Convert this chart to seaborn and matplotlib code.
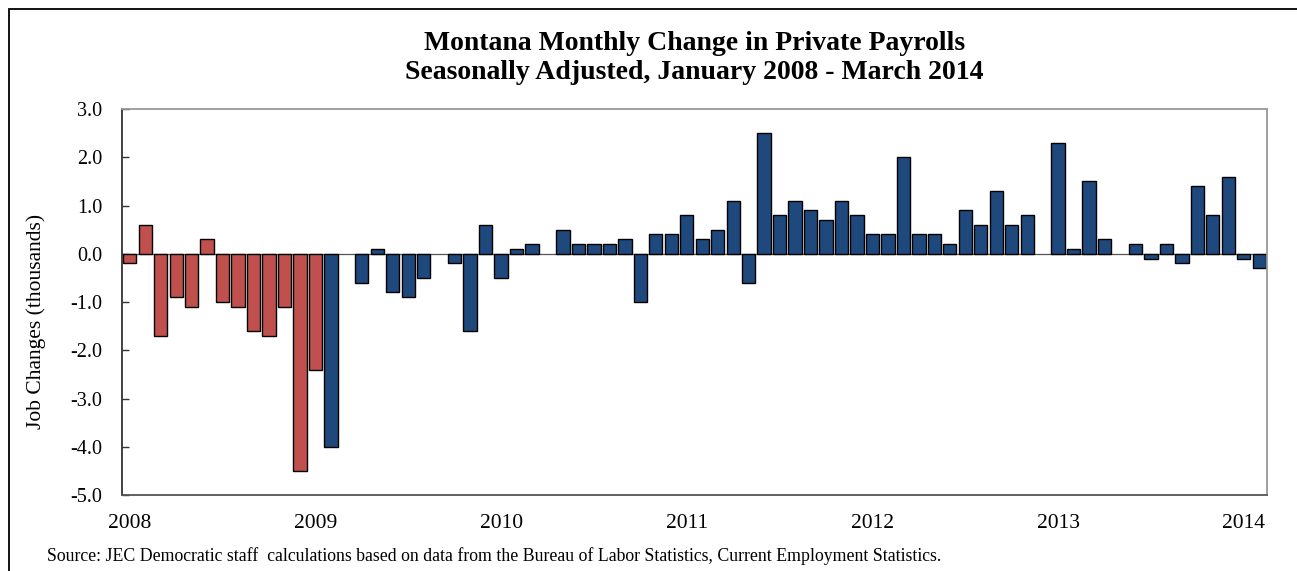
import numpy as np
import pandas as pd
import matplotlib
matplotlib.use("Agg")
import matplotlib.pyplot as plt
from matplotlib.patches import Rectangle
import seaborn as sns

# ---- data (thousands of jobs, monthly change) ----
values_2008 = [-0.2, 0.6, -1.7, -0.9, -1.1, 0.3, -1.0, -1.1, -1.6, -1.7, -1.1, -4.5]
values_2009 = [-2.4, -4.0, 0.0, -0.6, 0.1, -0.8, -0.9, -0.5, 0.0, -0.2, -1.6, 0.6]
values_2010 = [-0.5, 0.1, 0.2, 0.0, 0.5, 0.2, 0.2, 0.2, 0.3, -1.0, 0.4, 0.4]
values_2011 = [0.8, 0.3, 0.5, 1.1, -0.6, 2.5, 0.8, 1.1, 0.9, 0.7, 1.1, 0.8]
values_2012 = [0.4, 0.4, 2.0, 0.4, 0.4, 0.2, 0.9, 0.6, 1.3, 0.6, 0.8, 0.0]
values_2013 = [2.3, 0.1, 1.5, 0.3, 0.0, 0.2, -0.1, 0.2, -0.2, 1.4, 0.8, 1.6]
values_2014 = [-0.1, -0.3]
year_labels = ["2008", "2009", "2010", "2011", "2012", "2013", "2014"]
y_ticks = [3.0, 2.0, 1.0, 0.0, -1.0, -2.0, -3.0, -4.0, -5.0]
n_bush_months = 13  # Jan 2008 - Jan 2009 shown in red

values = (values_2008 + values_2009 + values_2010 + values_2011 +
          values_2012 + values_2013 + values_2014)
df = pd.DataFrame({
    "month": np.arange(len(values)),
    "change": values,
    "period": ["a" if i < n_bush_months else "b" for i in range(len(values))],
})

sns.set_style("white")
plt.rcParams["font.family"] = ["Liberation Serif", "DejaVu Serif"]
plt.rcParams["text.color"] = "black"
plt.rcParams["axes.labelcolor"] = "black"
plt.rcParams["xtick.color"] = "black"
plt.rcParams["ytick.color"] = "black"

W, H = 1297, 571
fig = plt.figure(figsize=(W / 100, H / 100), dpi=100)
ax = fig.add_axes([122 / W, 1 - 495 / H, (1267 - 122) / W, (495 - 109) / H])

ax.axhline(0, color="#555555", linewidth=0.9, zorder=1)
sns.barplot(data=df, x="month", y="change", hue="period",
            palette={"a": "#C0504D", "b": "#1F497D"}, dodge=False,
            width=0.86, edgecolor="black", linewidth=1.0, legend=False,
            saturation=1, ax=ax, zorder=2)
for p in ax.patches:
    if abs(p.get_height()) < 1e-9:
        p.set_linewidth(0)

ax.set_xlim(-0.5, len(values) - 0.5)
ax.set_ylim(-5.0, 3.0)
ax.set_yticks(y_ticks)
ax.set_yticklabels([f"{v:.1f}" for v in y_ticks], fontsize=14.5)
ax.set_xticks(np.arange(0, len(values), 12))
ax.set_xticklabels(year_labels, fontsize=15.5)
ax.tick_params(axis="y", direction="in", length=5, width=1, color="#333333",
               pad=14, left=True)
ax.tick_params(axis="x", length=0, pad=14)
ax.set_xlabel("")
ax.set_ylabel("Job Changes (thousands)", fontsize=15.5, va="center")
ax.yaxis.set_label_coords(-0.075, 0.45)

for s in ["top", "right"]:
    ax.spines[s].set_color("#999999")
    ax.spines[s].set_linewidth(1.3)
ax.spines["left"].set_color("#333333")
ax.spines["left"].set_linewidth(1.3)
ax.spines["bottom"].set_color("#555555")
ax.spines["bottom"].set_linewidth(1.3)

fig.text(694.5 / W, 1 - 58 / H,
         "Montana Monthly Change in Private Payrolls\nSeasonally Adjusted, January 2008 - March 2014",
         ha="center", va="center", fontsize=20, fontweight="bold", linespacing=1.2)
fig.text(47 / W, 1 - 556 / H,
         "Source: JEC Democratic staff  calculations based on data from the Bureau of Labor Statistics, Current Employment Statistics.",
         ha="left", va="center", fontsize=12.8)

fig.patches.append(Rectangle((9 / W, -0.05), 1.2, 1 - 9.5 / H + 0.05,
                             transform=fig.transFigure, fill=False,
                             edgecolor="black", linewidth=1.3, zorder=-1))

fig.savefig("out.png", dpi=100, facecolor="white")
